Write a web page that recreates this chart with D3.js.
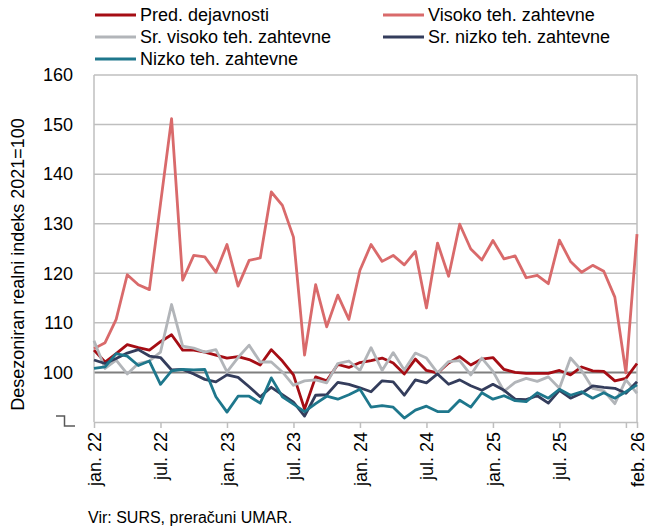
<!DOCTYPE html>
<html>
<head>
<meta charset="utf-8">
<script src="https://cdn.jsdelivr.net/npm/d3@7"></script>
<style>
  body { margin: 0; background: #fff; }
  svg { display: block; font-family: "Liberation Sans", Arial, sans-serif; }
</style>
</head>
<body>
<svg id="chart"></svg>
<script>
// months jan 22 .. feb 26 (index 0..49)
const tickIdx = [0, 6, 12, 18, 24, 30, 36, 42, 48, 49];
const tickLabels = ["jan. 22", "jul. 22", "jan. 23", "jul. 23", "jan. 24", "jul. 24", "jan. 25", "jul. 25", "", "feb. 26"];
const yTicks = [100, 110, 120, 130, 140, 150, 160];

const seriesNames = ["Pred. dejavnosti", "Visoko teh. zahtevne", "Sr. visoko teh. zahtevne", "Sr. nizko teh. zahtevne", "Nizko teh. zahtevne"];
const seriesColors = ["#a50d14", "#d96a6b", "#b2b5b9", "#343d5c", "#1e778c"];

const pred = [104.5, 102.1, 103.8, 105.6, 105.0, 104.5, 106.2, 107.6, 104.5, 104.5,
  104.1, 103.5, 102.9, 103.2, 102.6, 101.5, 104.6, 102.3, 99.5, 92.6,
  99.1, 98.3, 101.6, 101.0, 102.0, 102.4, 102.9, 101.9, 99.7, 102.7,
  100.4, 99.9, 101.9, 103.2, 101.5, 102.7, 103.0, 100.6, 100.0, 99.8,
  99.8, 99.8, 100.4, 99.5, 101.1, 100.3, 100.2, 98.3, 98.8, 101.8];

const visoko = [104.8, 106.0, 110.7, 119.7, 117.7, 116.7, 134.0, 151.2, 118.6, 123.6,
  123.3, 120.2, 125.8, 117.4, 122.6, 123.1, 136.4, 133.7, 127.3, 103.5,
  117.7, 109.2, 115.6, 110.7, 120.6, 125.8, 122.4, 123.6, 121.7, 124.4,
  113.0, 126.1, 119.4, 129.9, 124.9, 122.7, 126.6, 122.9, 123.5, 119.1,
  119.6, 117.9, 126.7, 122.4, 120.2, 121.6, 120.4, 115.2, 99.9, 127.9];

const srVisoko = [106.4, 100.8, 102.5, 99.7, 101.8, 102.3, 104.1, 113.7, 105.3, 104.9,
  104.1, 104.6, 100.1, 103.0, 105.5, 102.1, 102.1, 100.1, 97.4, 98.3,
  98.5, 97.9, 101.8, 102.3, 100.4, 105.0, 100.4, 104.0, 100.5, 103.9,
  102.9, 99.9, 102.2, 102.4, 99.5, 102.9, 100.2, 96.2, 98.0, 98.8,
  98.2, 99.1, 96.8, 102.9, 100.4, 96.8, 96.3, 93.7, 98.5, 95.8];

const srNizko = [102.5, 101.8, 102.8, 103.9, 104.6, 103.3, 103.0, 100.5, 100.6, 99.7,
  98.6, 98.1, 99.5, 99.0, 97.1, 95.1, 97.0, 95.5, 94.0, 91.2,
  95.4, 95.5, 98.0, 97.6, 96.9, 96.1, 98.3, 98.1, 95.4, 98.5,
  97.9, 99.7, 97.6, 98.5, 97.3, 96.4, 97.6, 96.4, 94.6, 94.5,
  95.3, 93.8, 96.4, 94.8, 95.8, 97.3, 97.0, 96.8, 95.8, 98.1];

const nizko = [100.8, 101.1, 103.8, 103.3, 101.4, 102.3, 97.6, 100.3, 100.6, 100.5,
  100.6, 95.1, 92.0, 95.2, 95.2, 93.8, 98.9, 95.1, 93.6, 92.1,
  93.7, 95.2, 94.6, 95.5, 96.6, 93.0, 93.3, 93.0, 90.8, 92.4,
  93.2, 92.1, 92.1, 94.4, 93.0, 95.9, 94.6, 95.3, 94.3, 94.1,
  95.9, 94.8, 96.6, 95.4, 96.1, 94.8, 95.9, 94.8, 96.1, 97.5];

const seriesValues = [pred, visoko, srVisoko, srNizko, nizko];

const width = 650, height = 532;
const margin = {top: 75, right: 13, bottom: 110, left: 94};
const grid = "#bfbfbf";

const svg = d3.select("#chart").attr("width", width).attr("height", height);

const x = d3.scaleLinear().domain([0, pred.length - 1]).range([margin.left, width - margin.right]);
const y = d3.scaleLinear().domain([90, 160]).range([height - margin.bottom, margin.top]);

// gridlines
svg.append("g")
  .selectAll("line")
  .data(yTicks)
  .join("line")
  .attr("x1", x.range()[0]).attr("x2", x.range()[1])
  .attr("y1", d => y(d)).attr("y2", d => y(d))
  .attr("stroke", d => d === 100 ? "#7f7f7f" : grid)
  .attr("stroke-width", d => d === 100 ? 2 : 1.5);

// frame: left and right verticals
svg.append("g")
  .selectAll("line")
  .data(x.range())
  .join("line")
  .attr("x1", d => d).attr("x2", d => d)
  .attr("y1", y(160)).attr("y2", y(90))
  .attr("stroke", grid).attr("stroke-width", 1.5);

// y tick labels
svg.append("g")
  .attr("font-size", 18)
  .attr("text-anchor", "end")
  .selectAll("text")
  .data(yTicks)
  .join("text")
  .attr("x", 73)
  .attr("y", d => y(d))
  .attr("dy", "0.35em")
  .text(d => d);

// axis break symbol at the bottom of the y axis
svg.append("path")
  .attr("d", `M56,${y(90) - 6}H64.5V${y(90) + 4}H75`)
  .attr("fill", "none")
  .attr("stroke", "#595959")
  .attr("stroke-width", 1.5);

// x axis
const xAxis = svg.append("g")
  .attr("transform", `translate(0,${y(90)})`)
  .call(d3.axisBottom(x)
    .tickValues(tickIdx)
    .tickFormat((d, i) => tickLabels[i])
    .tickSize(6)
    .tickSizeOuter(0));

xAxis.select(".domain").attr("stroke", grid).attr("stroke-width", 1.5);
xAxis.selectAll(".tick line").attr("stroke", grid).attr("stroke-width", 1.5);
xAxis.selectAll(".tick text")
  .attr("font-size", 18)
  .attr("font-family", "Liberation Sans, Arial, sans-serif")
  .attr("fill", "#000")
  .attr("text-anchor", "end")
  .attr("transform", "rotate(-90)")
  .attr("x", -10)
  .attr("y", 0)
  .attr("dy", "0.36em");

// y axis title
svg.append("text")
  .attr("transform", `translate(24,${(y(160) + y(90)) / 2 + 16}) rotate(-90)`)
  .attr("text-anchor", "middle")
  .attr("font-size", 18)
  .text("Desezoniran realni indeks 2021=100");

// series lines
const line = d3.line()
  .x((d, i) => x(i))
  .y(d => y(d));

svg.append("g")
  .attr("fill", "none")
  .attr("stroke-width", 2.8)
  .attr("stroke-linejoin", "round")
  .selectAll("path")
  .data(seriesValues)
  .join("path")
  .attr("stroke", (d, i) => seriesColors[i])
  .attr("d", line);

// legend
const legendPos = [[95, 15], [383, 15], [95, 37], [383, 37], [95, 59]];
const legend = svg.append("g")
  .attr("font-size", 18)
  .selectAll("g")
  .data(seriesNames)
  .join("g")
  .attr("transform", (d, i) => `translate(${legendPos[i][0]},${legendPos[i][1]})`);

legend.append("line")
  .attr("x1", 0).attr("x2", 41)
  .attr("stroke", (d, i) => seriesColors[i])
  .attr("stroke-width", 3);

legend.append("text")
  .attr("x", 45)
  .attr("dy", "0.35em")
  .text(d => d);

// source
svg.append("text")
  .attr("x", 88)
  .attr("y", 523)
  .attr("font-size", 16)
  .text("Vir: SURS, preračuni UMAR.");
</script>
</body>
</html>
